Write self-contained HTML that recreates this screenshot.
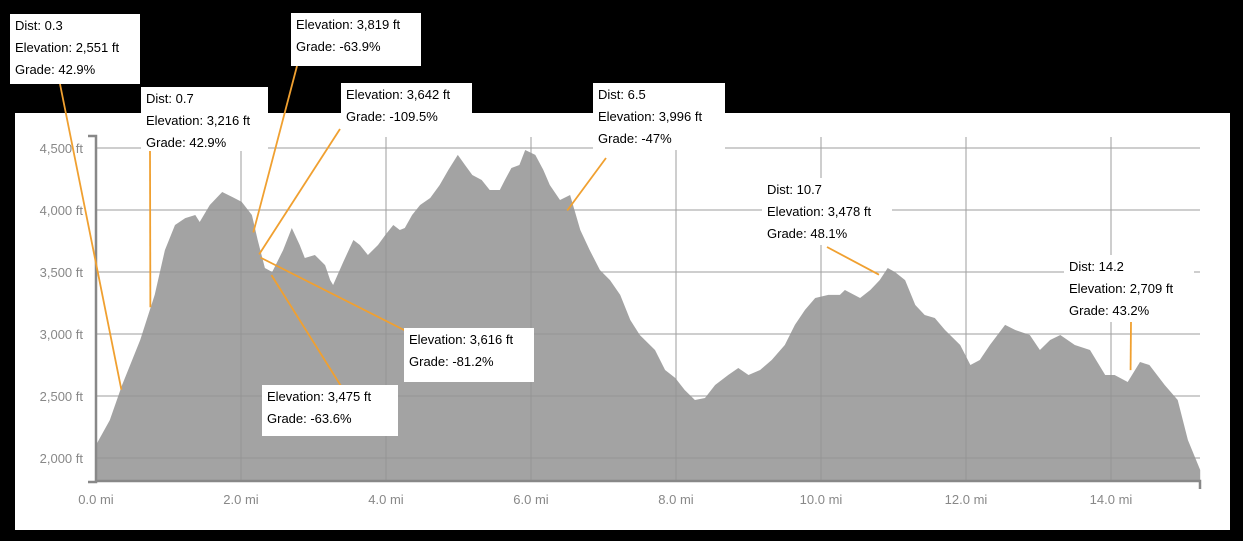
<!DOCTYPE html>
<html><head><meta charset="utf-8"><style>
body{margin:0;background:#000;width:1243px;height:541px;overflow:hidden;font-family:"Liberation Sans",sans-serif}
svg{display:block}
</style></head><body>
<svg width="1243" height="541">
<rect x="0" y="0" width="1243" height="541" fill="#000"/>
<rect x="15" y="113" width="1215" height="417" fill="#fff"/>
<g id="grid"></g>
<path id="area" fill="#a3a3a3"/>
<g id="grid2"></g>
<g id="axes"></g>
<g id="notes"></g>
</svg>
<script>
const miles=[0,0.19,0.36,0.61,0.81,0.95,1.09,1.23,1.37,1.43,1.57,1.74,1.88,2.01,2.15,2.23,2.33,2.43,2.58,2.70,2.81,2.88,3.02,3.16,3.23,3.27,3.41,3.55,3.64,3.75,3.89,3.99,4.10,4.19,4.26,4.36,4.47,4.61,4.74,4.86,4.99,5.09,5.19,5.32,5.43,5.57,5.64,5.73,5.84,5.92,6.06,6.17,6.26,6.40,6.54,6.68,6.81,6.95,7.09,7.23,7.37,7.50,7.71,7.85,7.99,8.12,8.26,8.40,8.54,8.72,8.86,9.0,9.16,9.32,9.50,9.64,9.78,9.92,10.10,10.26,10.33,10.54,10.68,10.81,10.92,11.02,11.16,11.30,11.43,11.57,11.71,11.92,12.06,12.19,12.33,12.54,12.68,12.88,13.02,13.16,13.30,13.50,13.71,13.92,14.05,14.23,14.40,14.53,14.74,14.92,15.06,15.23];
const elevations=[2105,2306,2589,2952,3315,3677,3879,3935,3960,3903,4040,4145,4105,4065,3960,3758,3532,3500,3677,3855,3718,3613,3637,3556,3435,3395,3580,3758,3718,3637,3718,3798,3879,3839,3855,3960,4040,4097,4202,4323,4444,4363,4282,4242,4161,4161,4242,4339,4363,4484,4444,4323,4202,4081,4121,3839,3677,3516,3435,3315,3113,2992,2871,2710,2645,2548,2468,2484,2589,2669,2726,2669,2710,2790,2911,3073,3194,3290,3315,3315,3355,3290,3355,3435,3532,3500,3435,3234,3153,3129,3032,2911,2750,2790,2911,3073,3032,2992,2871,2952,2992,2911,2871,2669,2669,2613,2774,2750,2589,2468,2145,1903];
const yTicks=[2000,2500,3000,3500,4000,4500];
const yTickLabels=["2,000 ft","2,500 ft","3,000 ft","3,500 ft","4,000 ft","4,500 ft"];
const xTicks=[0,2,4,6,8,10,12,14];
const xTickLabels=["0.0 mi","2.0 mi","4.0 mi","6.0 mi","8.0 mi","10.0 mi","12.0 mi","14.0 mi"];
const noteDist=[0.35,0.75,2.17,2.25,2.27,2.42,6.5,10.8,14.27];
const noteElev=[2551,3216,3819,3642,3616,3475,3996,3478,2709];
const noteLines=[["Dist: 0.3","Elevation: 2,551 ft","Grade: 42.9%"],["Dist: 0.7","Elevation: 3,216 ft","Grade: 42.9%"],["Elevation: 3,819 ft","Grade: -63.9%"],["Elevation: 3,642 ft","Grade: -109.5%"],["Elevation: 3,616 ft","Grade: -81.2%"],["Elevation: 3,475 ft","Grade: -63.6%"],["Dist: 6.5","Elevation: 3,996 ft","Grade: -47%"],["Dist: 10.7","Elevation: 3,478 ft","Grade: 48.1%"],["Dist: 14.2","Elevation: 2,709 ft","Grade: 43.2%"]];
const X0=96,PXMI=72.5,Y0=458,PXFT=0.124,BASE=481;
const xs=m=>X0+m*PXMI;
const ys=f=>Y0-(f-2000)*PXFT;
const NS="http://www.w3.org/2000/svg";
function mk(parent,tag,attrs){const e=document.createElementNS(NS,tag);for(const k in attrs)e.setAttribute(k,attrs[k]);document.getElementById(parent).appendChild(e);return e;}
// grid
yTicks.forEach((t,i)=>{
 const l=mk('grid','line',{x1:96,x2:1200,y1:ys(t),y2:ys(t),stroke:'#ddd','stroke-width':1.5});
 
 
 const g2=mk('grid2','line',{x1:96,x2:1200,y1:ys(t),y2:ys(t),stroke:'#8f8f8f','stroke-width':1,opacity:0.6});
 
 
 const tx=mk('axes','text',{x:83,y:ys(t)+5,'text-anchor':'end','font-size':13,fill:'#888'});
 tx.textContent=yTickLabels[i];
 
 
});
xTicks.forEach((t,i)=>{
 if(t>0){
 const l=mk('grid','line',{x1:xs(t),x2:xs(t),y1:137,y2:BASE,stroke:'#ddd','stroke-width':1.5});
 
 
 const g2=mk('grid2','line',{x1:xs(t),x2:xs(t),y1:137,y2:BASE,stroke:'#8f8f8f','stroke-width':1,opacity:0.6});
 
 
 }
 const tx=mk('axes','text',{x:xs(t),y:504,'text-anchor':'middle','font-size':13,fill:'#888'});
 tx.textContent=xTickLabels[i];
 
 
});
// area
let d='M'+xs(miles[0])+','+BASE;
miles.forEach((m,i)=>{d+=' L'+xs(m).toFixed(1)+','+ys(elevations[i]).toFixed(1);});
d+=' L'+xs(miles[miles.length-1]).toFixed(1)+','+BASE+' Z';
document.getElementById('area').setAttribute('d',d);
// axes
const ya=mk('axes','path',{d:'M88,136 H96 V482 H88',fill:'none',stroke:'#888','stroke-width':2.5});


const xa=mk('axes','path',{d:'M96,481 H1200 V489',fill:'none',stroke:'#888','stroke-width':2.5});


// annotations: box positions
const boxes=[[10,14,130,70,60,84],[141,87,127,64,150,151],[291,13,130,53,297,66],[341,83,131,46,340,129],[404,328,130,54,406,331],[262,385,136,51,341,386],[593,83,132,67,606,158],[762,178,130,67,827,247],[1064,255,130,67,1131,322]];
boxes.forEach((b,i)=>{
 const ln=mk('notes','line',{x1:b[4],y1:b[5],x2:xs(noteDist[i]),y2:ys(noteElev[i]),stroke:'#f0a030','stroke-width':1.8});
 
 
});
boxes.forEach((b,i)=>{
 const r=mk('notes','rect',{x:b[0],y:b[1],width:b[2],height:b[3],fill:'#fff'});
 
 
 noteLines[i].forEach((s,j)=>{
  const t=mk('notes','text',{x:b[0]+5,y:b[1]+16+j*22,'font-size':13,fill:'#000'});
  t.textContent=s;
  
  
 });
});
</script>
</body></html>
